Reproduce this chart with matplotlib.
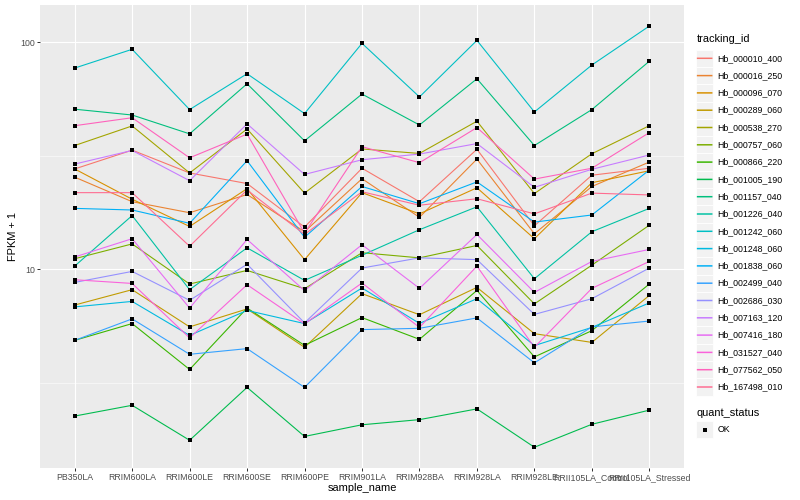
import numpy as np
import matplotlib
matplotlib.use("Agg")
import matplotlib.pyplot as plt
from matplotlib.patches import Rectangle
from matplotlib.ticker import FixedLocator, NullFormatter

plt.rcParams['font.family'] = ['Liberation Sans', 'DejaVu Sans']

samples = ["PB350LA", "RRIM600LA", "RRIM600LE", "RRIM600SE", "RRIM600PE", "RRIM901LA",
           "RRIM928BA", "RRIM928LA", "RRIM928LE", "RRII105LA_Control", "RRII105LA_Stressed"]

tracking_ids = ["Hb_000010_400", "Hb_000016_250", "Hb_000096_070", "Hb_000289_060",
                "Hb_000538_270", "Hb_000757_060", "Hb_000866_220", "Hb_001005_190",
                "Hb_001157_040", "Hb_001226_040", "Hb_001242_060", "Hb_001248_060",
                "Hb_001838_060", "Hb_002499_040", "Hb_002686_030", "Hb_007163_120",
                "Hb_007416_180", "Hb_031527_040", "Hb_077562_050", "Hb_167498_010"]

colors = ["#F8766D", "#EA8331", "#D89000", "#C09B00", "#A3A500", "#7CAE00", "#39B600",
          "#00BB4E", "#00BF7D", "#00C1A3", "#00BFC4", "#00BAE0", "#00B0F6", "#35A2FF",
          "#9590FF", "#C77CFF", "#E76BF3", "#FA62DB", "#FF62BC", "#FF6C91"]

Hb_000010_400 = [27.6, 33.4, 26.5, 23.8, 15.3, 27.8, 19.8, 33.7, 15.5, 25.9, 27.8]
Hb_000016_250 = [25.4, 19.8, 17.7, 21.3, 14.6, 25.0, 16.9, 30.5, 14.3, 23.1, 29.6]
Hb_000096_070 = [27.6, 20.3, 15.4, 22.6, 11.0, 21.7, 17.5, 22.8, 13.6, 24.0, 27.1]
Hb_000289_060 = [6.94, 8.11, 5.56, 6.67, 4.52, 7.79, 6.29, 8.30, 5.19, 4.75, 7.65]
Hb_000538_270 = [35.0, 42.7, 26.5, 41.4, 21.6, 33.8, 32.3, 44.8, 21.5, 32.2, 42.8]
Hb_000757_060 = [11.1, 12.9, 8.59, 9.86, 8.19, 11.8, 11.2, 12.7, 7.02, 10.4, 15.6]
Hb_000866_220 = [4.85, 5.75, 3.61, 6.73, 4.61, 6.11, 4.90, 8.05, 4.10, 5.35, 8.59]
Hb_001005_190 = [2.25, 2.51, 1.76, 3.01, 1.83, 2.06, 2.17, 2.42, 1.64, 2.07, 2.39]
Hb_001157_040 = [50.6, 47.7, 39.4, 65.5, 36.7, 59.0, 43.1, 68.9, 35.0, 50.4, 82.3]
Hb_001226_040 = [10.3, 17.2, 8.11, 12.4, 8.91, 11.5, 14.9, 18.8, 9.06, 14.6, 18.5]
Hb_001242_060 = [76.8, 92.9, 50.4, 72.5, 48.4, 98.7, 57.3, 101.7, 49.2, 79.2, 117.6]
Hb_001248_060 = [6.81, 7.20, 5.10, 6.57, 5.75, 8.25, 5.76, 7.40, 4.60, 5.53, 7.09]
Hb_001838_060 = [18.5, 18.2, 15.9, 30.0, 13.8, 23.1, 19.4, 24.2, 16.1, 17.3, 27.3]
Hb_002499_040 = [4.85, 6.03, 4.21, 4.46, 3.01, 5.41, 5.48, 6.09, 3.86, 5.56, 5.90]
Hb_002686_030 = [8.73, 9.76, 7.28, 10.5, 5.79, 10.1, 11.2, 11.0, 6.31, 7.40, 10.1]
Hb_007163_120 = [29.0, 33.3, 24.5, 43.6, 26.1, 30.3, 32.1, 35.7, 22.9, 27.5, 31.8]
Hb_007416_180 = [11.3, 13.6, 6.73, 13.5, 8.03, 12.8, 8.22, 14.2, 7.89, 10.8, 12.2]
Hb_031527_040 = [8.97, 8.64, 4.97, 8.53, 5.73, 8.68, 5.53, 10.3, 4.52, 8.22, 10.8]
Hb_077562_050 = [42.8, 46.4, 30.9, 39.3, 14.4, 34.6, 29.4, 42.0, 24.9, 27.8, 39.9]
Hb_167498_010 = [21.7, 21.7, 12.6, 22.3, 14.2, 21.9, 19.1, 20.4, 17.5, 21.6, 21.2]

series = [Hb_000010_400, Hb_000016_250, Hb_000096_070, Hb_000289_060, Hb_000538_270,
          Hb_000757_060, Hb_000866_220, Hb_001005_190, Hb_001157_040, Hb_001226_040,
          Hb_001242_060, Hb_001248_060, Hb_001838_060, Hb_002499_040, Hb_002686_030,
          Hb_007163_120, Hb_007416_180, Hb_031527_040, Hb_077562_050, Hb_167498_010]

quant_status = "OK"

W, H = 800, 500
fig = plt.figure(figsize=(W / 72, H / 72), dpi=72)
fig.patch.set_facecolor("white")

pl, pr, pt, pb = 40.2, 683.8, 5.0, 468.3
ax = fig.add_axes([pl / W, (H - pb) / H, (pr - pl) / W, (pb - pt) / H])
ax.set_facecolor("#EBEBEB")

x = np.arange(len(samples))
for vals, c in zip(series, colors):
    ax.plot(x, vals, color=c, lw=1.1, zorder=2, solid_capstyle='butt')
for vals in series:
    ax.plot(x, vals, ls='none', marker='s', ms=3.2, mew=0, color='black', zorder=3)

ax.set_yscale('log')
allv = np.concatenate([np.array(s) for s in series])
lo, hi = np.log10(allv.min()), np.log10(allv.max())
pad = 0.05 * (hi - lo)
ax.set_ylim(10 ** (lo - pad), 10 ** (hi + pad))
ax.set_xlim(-0.6, len(samples) - 1 + 0.6)

ax.yaxis.set_major_locator(FixedLocator([10, 100]))
ax.set_yticklabels(["10", "100"])
ax.yaxis.set_minor_locator(FixedLocator([10 ** 0.5, 10 ** 1.5]))
ax.yaxis.set_minor_formatter(NullFormatter())
ax.set_xticks(x)
ax.set_xticklabels(samples)

for s in ax.spines.values():
    s.set_visible(False)
ax.tick_params(which='major', length=2.75, width=1.0, color='#333333', pad=2.2,
               labelsize=8.8, labelcolor='#4D4D4D')
ax.tick_params(which='minor', length=0)
ax.grid(which='major', color='white', lw=1.1, zorder=0)
ax.grid(which='minor', axis='y', color='white', lw=0.55, zorder=0)
ax.set_axisbelow(True)

ax.set_xlabel("sample_name", fontsize=11, color='black')
ax.set_ylabel("FPKM + 1", fontsize=11, color='black')
ax.xaxis.set_label_coords(0.5, (pb - 483.0) / (pb - pt))
ax.yaxis.set_label_coords((13.0 - pl) / (pr - pl), 0.5)
ax.yaxis.label.set_va('center')

# legend overlay in pixel coordinates
ov = fig.add_axes([0, 0, 1, 1])
ov.set_xlim(0, W)
ov.set_ylim(H, 0)
ov.axis('off')
ov.patch.set_alpha(0)

ov.text(696.5, 39.5, "tracking_id", fontsize=11, va='center', ha='left')
step = 17.3
for i, (tid, c) in enumerate(zip(tracking_ids, colors)):
    yc = 58.3 + step * i
    ov.add_patch(Rectangle((696.0, yc - step / 2), 17.3, step, fc='#F2F2F2', ec='white',
                           lw=0.8, zorder=1))
    ov.plot([697.6, 711.7], [yc, yc], color=c, lw=1.5, zorder=3, snap=False)
    ov.text(717.5, yc, tid, fontsize=8.8, va='center', ha='left')

ov.text(696.5, 412.5, "quant_status", fontsize=11, va='center', ha='left')
yc = 429.5
ov.add_patch(Rectangle((696.0, yc - step / 2), 17.3, step, fc='#F2F2F2', ec='white',
                       lw=0.8, zorder=1))
ov.plot([704.65], [yc], ls='none', marker='s', ms=3.2, mew=0, color='black', zorder=3)
ov.text(717.5, yc, quant_status, fontsize=8.8, va='center', ha='left')

fig.savefig("out.png", dpi=72)
